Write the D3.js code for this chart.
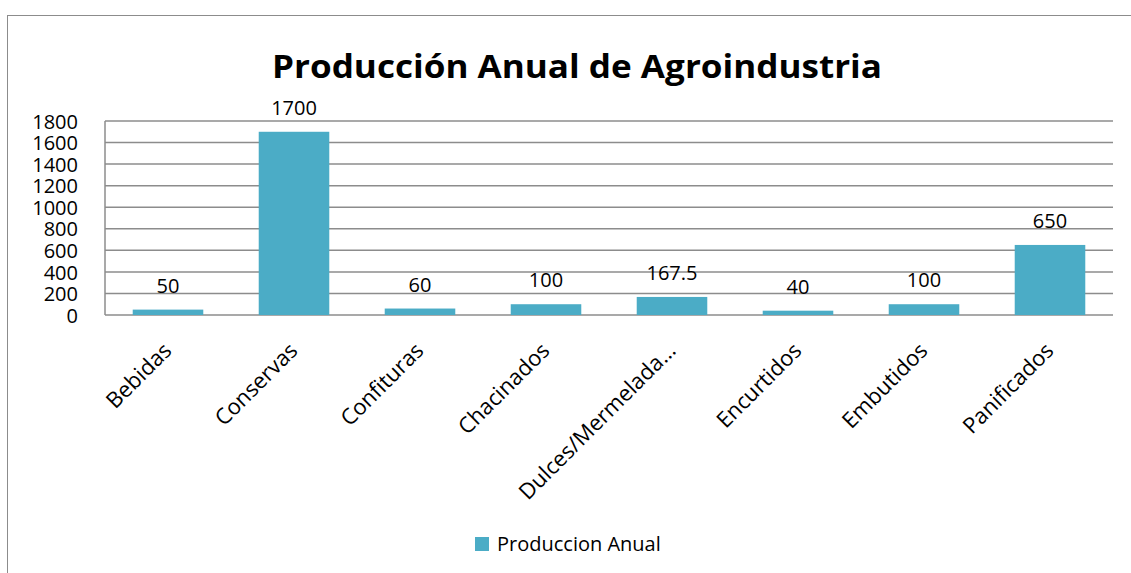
<!DOCTYPE html>
<html><head><meta charset="utf-8">
<script src="https://cdn.jsdelivr.net/npm/d3@7"></script>
<style>body{margin:0;background:#fff}svg{display:block}text{font-family:"Open Sans",sans-serif;fill:#000}</style>
</head><body><svg id="c" width="1131" height="573"></svg>
<script>
const categories = ["Bebidas","Conservas","Confituras","Chacinados","Dulces/Mermelada…","Encurtidos","Embutidos","Panificados"];
const values = [50,1700,60,100,167.5,40,100,650];
const valueLabels = ["50","1700","60","100","167.5","40","100","650"];
const yTicks = [0,200,400,600,800,1000,1200,1400,1600,1800];
const seriesName = "Produccion Anual";
const title = "Producción Anual de Agroindustria";

const svg = d3.select("#c");
const color = "#4BACC6", grid = "#8c8c8c";
svg.append("rect").attr("x",7.5).attr("y",15.5).attr("width",1200).attr("height",700).attr("fill","none").attr("stroke","#8c8c8c").attr("stroke-width",1);

const x = d3.scaleBand().domain(categories).range([105,1113]).paddingInner(0.44).paddingOuter(0.22);
const y = d3.scaleLinear().domain([0,1800]).range([315,121]);

svg.append("g").selectAll("line").data(yTicks).join("line")
  .attr("x1",105).attr("x2",1113).attr("y1",d=>y(d)).attr("y2",d=>y(d))
  .attr("stroke",grid).attr("stroke-width",1.5);
svg.append("line").attr("x1",105).attr("x2",105).attr("y1",y(1800)).attr("y2",y(0)).attr("stroke",grid).attr("stroke-width",1.5);

const ya = svg.append("g").attr("transform","translate(105,0)").call(d3.axisLeft(y).tickValues(yTicks).tickSize(0).tickPadding(27).tickFormat(d3.format("d")));
ya.select(".domain").remove();
ya.selectAll("text").style("font-size","20px").style("font-family","'Open Sans',sans-serif").attr("dy","0.36em");

svg.append("g").selectAll("rect").data(values).join("rect")
  .attr("x",(d,i)=>x(categories[i])).attr("width",x.bandwidth())
  .attr("y",d=>y(d)).attr("height",d=>y(0)-y(d)).attr("fill",color);

svg.append("g").selectAll("text").data(values).join("text")
  .attr("x",(d,i)=>x(categories[i])+x.bandwidth()/2).attr("y",d=>y(d)-17)
  .attr("text-anchor","middle").style("font-size","20px").text((d,i)=>valueLabels[i]);

const xa = svg.append("g").attr("transform","translate(0,315)").call(d3.axisBottom(x).tickSize(0).tickPadding(0));
xa.select(".domain").remove();
xa.selectAll("text").style("font-size","22px").style("font-family","'Open Sans',sans-serif")
  .attr("text-anchor","end").attr("dy",null).attr("y",0)
  .attr("transform","translate(5,37) rotate(-45)");

svg.append("text").attr("x",577).attr("y",78).attr("text-anchor","middle")
  .style("font-size","33px").style("font-weight","bold").attr("textLength",610).attr("lengthAdjust","spacingAndGlyphs").text(title);

svg.append("rect").attr("x",475).attr("y",537).attr("width",14).attr("height",14).attr("fill",color);
svg.append("text").attr("x",497).attr("y",551).style("font-size","20px").text(seriesName);
</script></body></html>
